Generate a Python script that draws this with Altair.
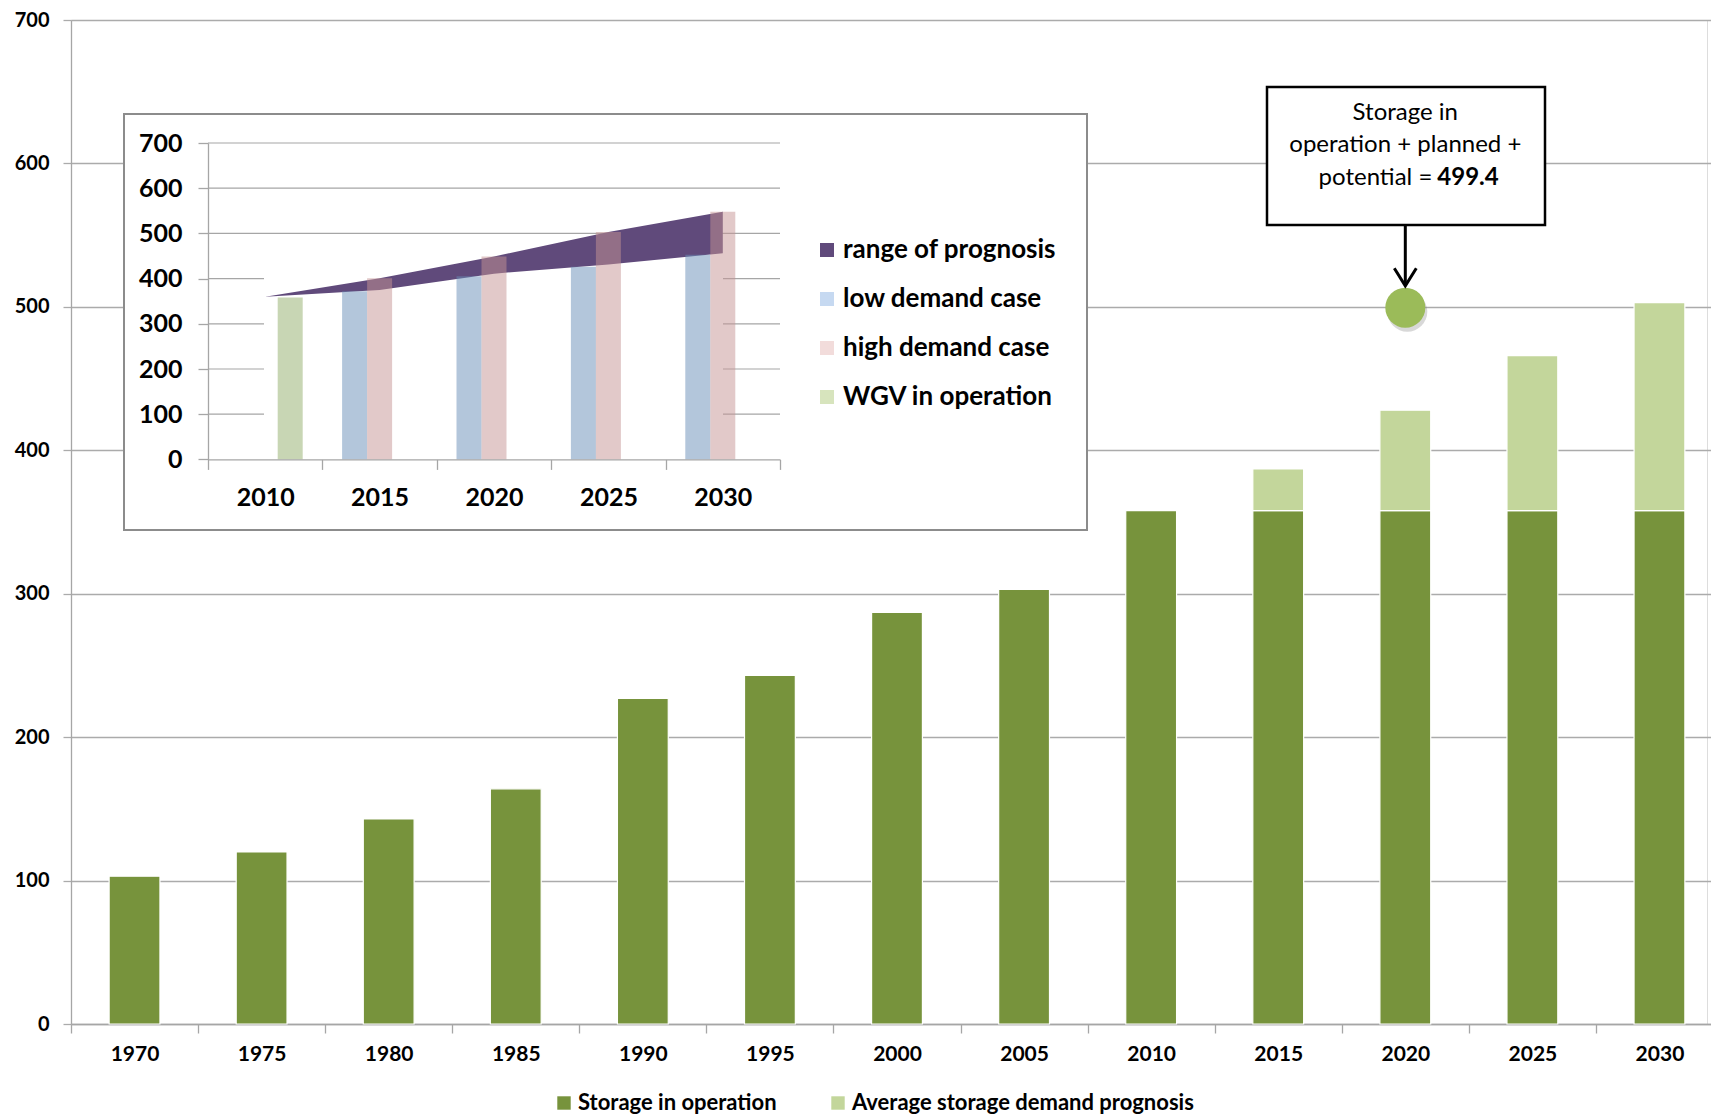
import altair as alt
import pandas as pd

# ---------------- data ----------------
years = ["1970", "1975", "1980", "1985", "1990", "1995", "2000",
         "2005", "2010", "2015", "2020", "2025", "2030"]
storage_in_operation = [103, 120, 143, 164, 227, 243, 287, 303, 358, 358, 358, 358, 358]
avg_storage_demand_prognosis = [0, 0, 0, 0, 0, 0, 0, 0, 0, 29, 70, 108, 145]
main_series = ["Storage in operation", "Average storage demand prognosis"]
main_colors = ["#77933C", "#C3D69B"]

highlight_year = "2020"
highlight_value = 499.4
annotation_lines = ["Storage in", "operation + planned +", "potential ="]

inset_years = ["2010", "2015", "2020", "2025", "2030"]
wgv_years = ["2010"]
wgv_in_operation = [358]
demand_years = ["2015", "2020", "2025", "2030"]
low_demand_case = [372, 405, 426, 453]
high_demand_case = [401, 449, 503, 548]
range_low = [360, 375, 411, 431, 456]
range_high = [360, 401, 449, 503, 548]
inset_series = ["range of prognosis", "low demand case", "high demand case", "WGV in operation"]
inset_legend_colors = ["#604A7B", "#C6D9F1", "#F2DCDB", "#D7E4BD"]
bar_series = ["low demand case", "high demand case", "WGV in operation"]
inset_bar_colors = ["#678DB7", "#C59393", "#91AD69"]
y_ticks = [0, 100, 200, 300, 400, 500, 600, 700]

FONT = "Lato"
PLOT_W, PLOT_H = 1636, 1004

# ---------------- tables ----------------
rows = []
for yr, a, b in zip(years, storage_in_operation, avg_storage_demand_prognosis):
    rows.append({"year": yr, "series": main_series[0], "value": a, "order": 0})
    if b > 0:
        rows.append({"year": yr, "series": main_series[1], "value": b, "order": 1})
main_df = pd.DataFrame(rows)
pt_df = pd.DataFrame({"year": [highlight_year], "value": [highlight_value]})

inset_rows = [{"year": y, "series": "WGV in operation", "value": v} for y, v in zip(wgv_years, wgv_in_operation)]
for y, lo, hi in zip(demand_years, low_demand_case, high_demand_case):
    inset_rows.append({"year": y, "series": "low demand case", "value": lo})
    inset_rows.append({"year": y, "series": "high demand case", "value": hi})
inset_df = pd.DataFrame(inset_rows)
range_df = pd.DataFrame({"year": inset_years, "low": range_low, "high": range_high})
grid_df = pd.DataFrame({"value": y_ticks[1:]})
one = pd.DataFrame({"k": [0]})

# ---------------- main chart ----------------
main_x = alt.X(
    "year:N", sort=years,
    scale=alt.Scale(domain=years, range=[0, 1652], paddingInner=0, paddingOuter=0),
    axis=alt.Axis(title=None, labelAngle=0, tickBand="extent", tickSize=9, tickColor="#a6a6a6",
                  tickWidth=1.3, domainColor="#a6a6a6", domainWidth=1.3, grid=False,
                  labelFont=FONT, labelFontSize=21, labelFontWeight="bold", labelColor="black",
                  labelPadding=10),
)
main_y_scale = alt.Scale(domain=[0, 700], nice=False)
main_y_axis = alt.Axis(title=None, values=y_ticks, grid=True, gridColor="#ababab", gridWidth=1.3,
                       tickSize=8, tickColor="#ababab", tickWidth=1.3, domainColor="#a6a6a6",
                       domainWidth=1.3, labelFont=FONT, labelFontSize=20, labelFontWeight="bold",
                       labelColor="black", labelPadding=14)

bars = alt.Chart(main_df).mark_bar(stroke="white", strokeWidth=1.2,
                                   width=alt.RelativeBandSize(0.4)).encode(
    x=main_x,
    y=alt.Y("value:Q", stack="zero", scale=main_y_scale, axis=main_y_axis),
    color=alt.Color("series:N", sort=main_series,
                    scale=alt.Scale(domain=main_series, range=main_colors),
                    legend=alt.Legend(title=None, orient="none", legendX=482, legendY=1072,
                                      direction="horizontal", symbolType="square", symbolSize=180,
                                      symbolStrokeWidth=0, labelFont=FONT, labelFontSize=22,
                                      labelFontWeight="bold", labelColor="black", columnPadding=50,
                                      labelOffset=3, padding=0, labelLimit=0)),
    order=alt.Order("order:Q"),
)

pt_y = alt.Y("value:Q", scale=main_y_scale, axis=main_y_axis)
shadow = alt.Chart(pt_df).mark_circle(size=1600, color="#7f7f7f", opacity=0.3, xOffset=2, yOffset=4).encode(
    x=main_x, y=pt_y)
point = alt.Chart(pt_df).mark_circle(size=1600, color="#9BBB59", opacity=1).encode(x=main_x, y=pt_y)

annot_box = alt.Chart(one).mark_rect(fill="white", stroke="black", strokeWidth=2.5).encode(
    x=alt.value(1196), x2=alt.value(1474), y=alt.value(67), y2=alt.value(205))


def annot_text(txt, ypix, dx, align, weight):
    d = pd.DataFrame({"year": [highlight_year], "t": [txt]})
    return alt.Chart(d).mark_text(align=align, baseline="middle", dx=dx, font=FONT, fontSize=24,
                                  fontWeight=weight, color="black").encode(
        x=main_x, y=alt.value(ypix), text="t:N")


t1 = annot_text(annotation_lines[0], 93, 0, "center", "normal")
t2 = annot_text(annotation_lines[1], 125, 0, "center", "normal")
t3a = annot_text(annotation_lines[2], 158, 27, "right", "normal")
t3b = annot_text(f"{highlight_value}", 158, 32, "left", "bold")

arrow_line = alt.Chart(pt_df).mark_rule(color="black", strokeWidth=3).encode(
    x=main_x, y=alt.value(205), y2=alt.value(264))
arrow_head = alt.Chart(pt_df).mark_point(shape="M-1,-0.8L0,0.8L1,-0.8", filled=False, size=484,
                                         color="black", strokeWidth=3, opacity=1).encode(
    x=main_x, y=alt.value(257))

main = alt.layer(bars, shadow, point, annot_box, t1, t2, t3a, t3b, arrow_line, arrow_head)

# ---------------- inset chart ----------------
inset_x = alt.X(
    "year:N", sort=inset_years,
    scale=alt.Scale(domain=inset_years, range=[137, 709], paddingInner=0, paddingOuter=0),
    axis=alt.Axis(orient="bottom", offset=-564.6, zindex=1, title=None, labelAngle=0,
                  tickBand="extent", tickSize=10, tickColor="#a6a6a6", tickWidth=1.3,
                  domainColor="#a6a6a6", domainWidth=1.3, grid=False, labelFont=FONT,
                  labelFontSize=25, labelFontWeight="bold", labelColor="black", labelPadding=16),
)
inset_y_scale = alt.Scale(domain=[0, 700], range=[439.4, 123], nice=False)
inset_y_axis = alt.Axis(orient="left", offset=-137, zindex=1, title=None, values=y_ticks, grid=False,
                        tickSize=10, tickColor="#a6a6a6", tickWidth=1.3, domainColor="#a6a6a6",
                        domainWidth=1.3, labelFont=FONT, labelFontSize=25, labelFontWeight="bold",
                        labelColor="black", labelPadding=16)

inset_box = alt.Chart(one).mark_rect(fill="white", stroke="#8c8c8c", strokeWidth=2).encode(
    x=alt.value(53), x2=alt.value(1016), y=alt.value(94), y2=alt.value(510))

grid = alt.Chart(grid_df).mark_rule(color="#a6a6a6", strokeWidth=1.2).encode(
    y=alt.Y("value:Q", scale=inset_y_scale, axis=inset_y_axis),
    x=alt.value(137), x2=alt.value(709))

mask = alt.Chart(one).mark_rect(fill="white").encode(
    x=alt.value(193), x2=alt.value(652), y=alt.value(236), y2=alt.value(438))

area = alt.Chart(range_df).mark_area(color="#604A7B", opacity=1).encode(
    x=inset_x,
    y=alt.Y("low:Q", scale=inset_y_scale, axis=inset_y_axis),
    y2="high:Q")

bars_in = alt.Chart(inset_df).mark_bar(opacity=0.5).encode(
    x=inset_x,
    xOffset=alt.XOffset("series:N", sort=bar_series,
                        scale=alt.Scale(domain=bar_series, paddingInner=0, paddingOuter=0.788)),
    y=alt.Y("value:Q", scale=inset_y_scale, axis=inset_y_axis),
    color=alt.Color("series:N", scale=alt.Scale(domain=bar_series, range=inset_bar_colors), legend=None),
)

legend_layer = alt.Chart(pd.DataFrame({"series": inset_series})).mark_square(opacity=0, size=10).encode(
    color=alt.Color("series:N", sort=inset_series,
                    scale=alt.Scale(domain=inset_series, range=inset_legend_colors),
                    legend=alt.Legend(title=None, orient="none", legendX=743, legendY=217,
                                      direction="vertical", symbolType="square", symbolSize=196,
                                      symbolOpacity=1, symbolStrokeWidth=0, labelFont=FONT,
                                      labelFontSize=26, labelFontWeight="bold", labelColor="black",
                                      rowPadding=23, labelOffset=3, padding=0, labelLimit=0)))

inset = alt.layer(inset_box, grid, mask, area, bars_in, legend_layer).resolve_scale(color="independent")

chart = alt.layer(main, inset).resolve_scale(
    x="independent", y="independent", color="independent"
).properties(
    width=PLOT_W, height=PLOT_H,
    padding={"left": 71, "top": 20, "right": 4, "bottom": 91},
    autosize=alt.AutoSizeParams(type="none"),
).configure_view(stroke=None).configure(background="white")

chart.save("out.html", embed_options={"renderer": "svg", "actions": False})
